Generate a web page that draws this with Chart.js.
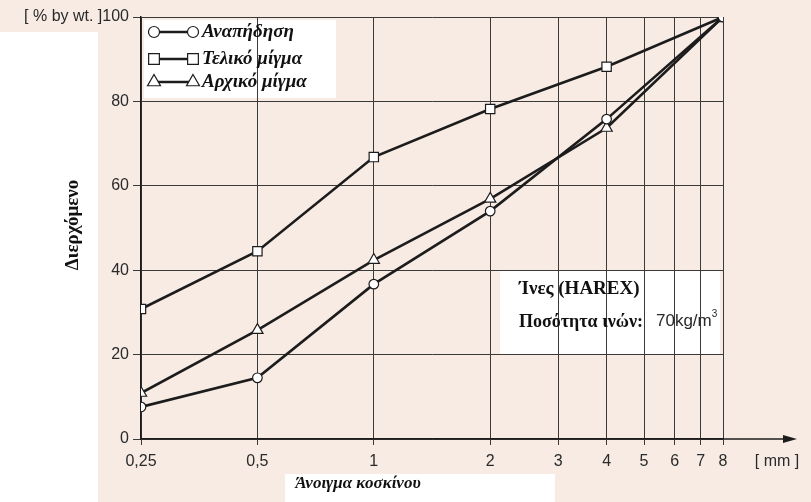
<!DOCTYPE html>
<html><head><meta charset="utf-8">
<script src="https://cdn.jsdelivr.net/npm/chart.js@4/dist/chart.umd.min.js"></script>
<style>html,body{margin:0;padding:0;background:#f7ebe4;}#wrap{width:811px;height:502px;}</style>
</head><body><div id="wrap"><canvas id="c" width="811" height="502"></canvas></div>
<script>
const sieveSizes = [0.25, 0.5, 1, 2, 4, 8];
const reboundValues = [7.6, 14.5, 36.7, 54.0, 75.8, 100];
const finalMixValues = [30.8, 44.5, 66.8, 78.2, 88.2, 100];
const initialMixValues = [10.9, 25.8, 42.4, 56.9, 73.7, 100];
const seriesNames = ['Αναπήδηση', 'Τελικό μίγμα', 'Αρχικό μίγμα'];
const xTickValues = [0.25, 0.5, 1, 2, 3, 4, 5, 6, 7, 8];
const xTickLabels = ['0,25', '0,5', '1', '2', '3', '4', '5', '6', '7', '8'];
const yTickLabels = ['0', '20', '40', '60', '80', '[ % by wt. ]100'];
const yTitle = 'Διερχόμενο';
const xTitle = 'Άνοιγμα κοσκίνου';
const xUnit = '[ mm ]';
const noteLine1 = 'Ίνες (HAREX)';
const noteLine2 = 'Ποσότητα ινών:';
const noteValue = '70kg/m';

const INK = '#1c1c1c';
const SANS = '"Liberation Sans", Arial, sans-serif';
const SERIF = '"Liberation Serif", "DejaVu Serif", serif';

function pts(vals){ return sieveSizes.map((x,i)=>({x:x, y:vals[i]})); }
function ds(label, vals, style, r){
  return {label, data: pts(vals), borderColor: INK, borderWidth: 2.6, pointStyle: style,
    pointRadius: r, pointHoverRadius: r, pointBackgroundColor: '#ffffff', pointBorderColor: INK,
    pointBorderWidth: 1.2, tension: 0, fill: false};
}

const decor = {
  id: 'decor',
  beforeDraw(chart){
    const c = chart.ctx; const a = chart.chartArea;
    c.save();
    c.fillStyle = '#f7ebe4'; c.fillRect(0,0,chart.width,chart.height);
    c.fillStyle = '#ffffff';
    c.fillRect(0, 32, 98, chart.height-32);
    c.fillRect(a.left+3, a.top+3, 192, 78);
    c.fillRect(500, 270, 220, 84);
    c.fillRect(285, 474, 270, 28);
    c.restore();
  },
  afterDraw(chart){
    const c = chart.ctx; const a = chart.chartArea;
    c.save();
    // x axis extension with arrow
    c.strokeStyle = INK; c.lineWidth = 1.5;
    c.beginPath(); c.moveTo(a.right, a.bottom); c.lineTo(a.right+62, a.bottom); c.stroke();
    c.fillStyle = INK; c.beginPath();
    c.moveTo(a.right+74, a.bottom); c.lineTo(a.right+60, a.bottom-4); c.lineTo(a.right+60, a.bottom+4); c.closePath(); c.fill();
    c.font = '16px ' + SANS; c.fillStyle = '#2a2a2a'; c.textAlign='center'; c.textBaseline='middle';
    c.fillText(xUnit, a.right+54, a.bottom+23);
    // axis titles
    c.font = 'bold italic 17px ' + SERIF; c.fillStyle = '#111';
    c.fillText(xTitle, 358, 484);
    c.save(); c.translate(73, 225); c.rotate(-Math.PI/2);
    c.font = 'bold 19px ' + SERIF; c.fillText(yTitle, 0, 0); c.restore();
    // legend
    const rows = [32, 59, 82];
    chart.data.datasets.forEach((d,i)=>{
      const y = rows[i]; const x1 = a.left+13, x2 = a.left+52;
      c.strokeStyle = INK; c.lineWidth = 2.4;
      c.beginPath(); c.moveTo(x1,y); c.lineTo(x2,y); c.stroke();
      const o = {pointStyle: d.pointStyle, radius: d.pointRadius*1.15, borderWidth: 1.2};
      c.fillStyle = '#fff'; c.strokeStyle = INK; c.lineWidth = 1.2;
      Chart.helpers.drawPoint(c, o, x1, y);
      c.fillStyle = '#fff'; c.strokeStyle = INK;
      Chart.helpers.drawPoint(c, o, x2, y);
      c.fillStyle = '#111'; c.font = 'bold italic 19px ' + SERIF; c.textAlign='left'; c.textBaseline='middle';
      c.fillText(d.label, a.left+61, y);
    });
    // annotation
    c.fillStyle = '#111'; c.textAlign='left'; c.textBaseline='middle';
    c.font = 'bold 19px ' + SERIF; c.fillText(noteLine1, 519, 289);
    c.font = 'bold 18px ' + SERIF; c.fillText(noteLine2, 519, 322);
    c.font = '17px ' + SANS; c.fillStyle = '#2a2a2a'; c.fillText(noteValue, 656, 321);
    const w = c.measureText(noteValue).width;
    c.font = '10px ' + SANS; c.fillText('3', 656+w, 314);
    c.restore();
  }
};

new Chart(document.getElementById('c'), {
  type: 'line',
  data: { datasets: [
    ds(seriesNames[0], reboundValues, 'circle', 4.8),
    ds(seriesNames[1], finalMixValues, 'rect', 6.6),
    ds(seriesNames[2], initialMixValues, 'triangle', 6.5)
  ]},
  options: {
    responsive: false, animation: false, devicePixelRatio: 1,
    layout: { padding: { top: 17, right: 88, left: 0, bottom: 0 } },
    plugins: { legend: { display: false }, tooltip: { enabled: false } },
    scales: {
      x: {
        type: 'logarithmic', min: 0.25, max: 8,
        afterBuildTicks: s => { s.ticks = xTickValues.map(v=>({value:v})); },
        afterFit: s => { s.height = 63; },
        ticks: { autoSkip: false, maxRotation: 0, minRotation: 0, padding: 7,
          callback: (v,i) => xTickLabels[i], font: { size: 16, family: SANS }, color: '#2a2a2a' },
        grid: { color: '#3a3a3a', lineWidth: 1, tickLength: 6, drawTicks: true },
        border: { color: INK, width: 1.5 }
      },
      y: {
        min: 0, max: 100,
        afterBuildTicks: s => { s.ticks = [0,20,40,60,80,100].map(v=>({value:v})); },
        afterFit: s => { s.width = 141; },
        ticks: { padding: 4, callback: (v,i) => yTickLabels[i], font: { size: 16, family: SANS }, color: '#2a2a2a' },
        grid: { color: '#3a3a3a', lineWidth: 1, tickLength: 8 },
        border: { color: INK, width: 1.5 }
      }
    }
  },
  plugins: [decor]
});
</script></body></html>
